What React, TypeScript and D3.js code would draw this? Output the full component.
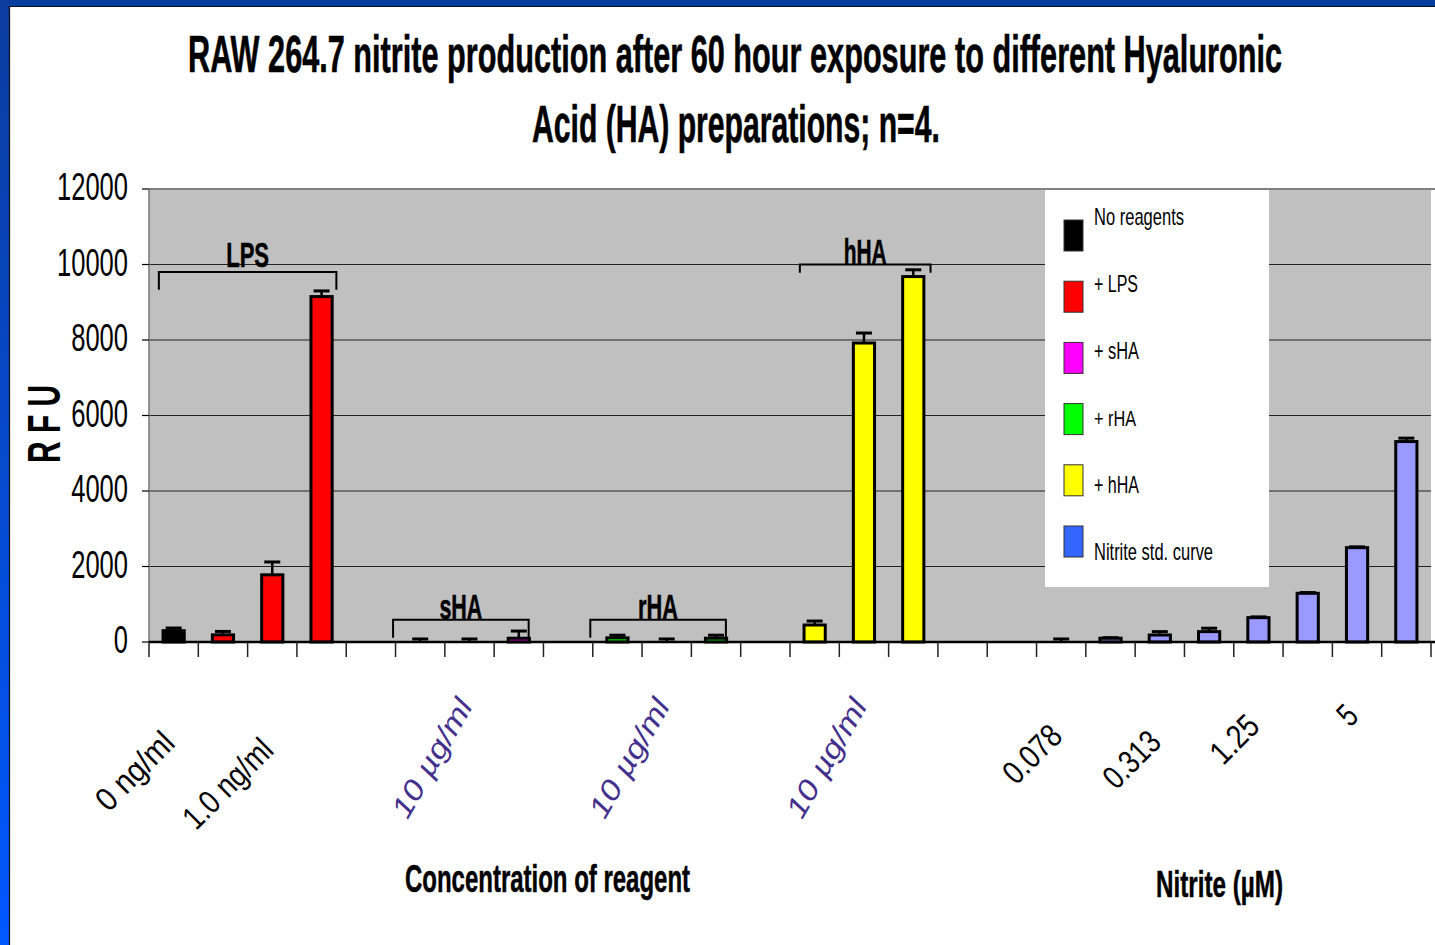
import React, { useLayoutEffect, useRef, useState } from "react";
import * as d3 from "d3";

// ---- data ----
const categoryLabels = [
  "0 ng/ml", "", "1.0 ng/ml", "", "", "", "10 µg/ml", "", "", "", "10 µg/ml", "", "",
  "", "10 µg/ml", "", "", "", "0.078", "", "0.313", "", "1.25", "", "5", "",
];
const seriesNames = ["No reagents", "+ LPS", "+ sHA", "+ rHA", "+ hHA", "Nitrite std. curve"];
const seriesColors = ["#000000", "#FF0000", "#FF00FF", "#00FF00", "#FFFF00", "#3366FF"];
const barSeries = [0, 1, 1, 1, -1, 2, 2, 2, -1, 3, 3, 3, -1, 4, 4, 4, -1, -1, 5, 5, 5, 5, 5, 5, 5, 5];
const barValues = [300, 190, 1780, 9150, 0, 0, 0, 100, 0, 110, 0, 100, 0, 450, 7920, 9680, 0, 0, 0, 100, 185, 275, 645, 1290, 2500, 5310];
const barErrors = [70, 90, 340, 150, 0, 80, 80, 190, 0, 70, 80, 80, 0, 105, 265, 180, 0, 0, 80, 15, 90, 90, 20, 20, 20, 90];
const yTicks = [0, 2000, 4000, 6000, 8000, 10000, 12000];
const bracketNames = ["LPS", "sHA", "rHA", "hHA"];
const bracketFrom = [0.2, 4.95, 8.95, 13.2];
const bracketTo = [3.8, 7.7, 11.7, 15.85];
const bracketLevel = [9800, 590, 590, 10000];
const bracketDrop = [470, 480, 480, 220];

const FONT = "'Liberation Sans', Arial, sans-serif";

type FitProps = {
  x: number; y: number; width: number; anchor?: "start" | "middle" | "end";
  children: React.ReactNode; [k: string]: any;
};

// Text squeezed horizontally to a given width (condensed look of the original)
function FitText({ x, y, width, anchor = "start", children, ...rest }: FitProps) {
  const ref = useRef<SVGTextElement | null>(null);
  const [s, setS] = useState(0.6);
  useLayoutEffect(() => {
    if (ref.current) {
      const w = ref.current.getComputedTextLength();
      if (w > 0) setS(width / w);
    }
  }, [width, children]);
  return (
    <text ref={ref} transform={`translate(${x},${y}) scale(${s},1)`} textAnchor={anchor} {...rest}>
      {children}
    </text>
  );
}

export default function App() {
  const W = 1435, H = 945;
  const left = 149, right = 1431, top = 189, bottom = 642;
  const x = d3.scaleBand<number>().domain(d3.range(categoryLabels.length)).range([left, right]).padding(0);
  const y = d3.scaleLinear().domain([0, 12000]).range([bottom, top]);
  const bw = x.bandwidth();
  const barW = bw * 0.43;
  const cx = (i: number) => (x(i) as number) + bw / 2;
  const catPos = (f: number) => left + f * bw;
  const barFill = (s: number) => (s === 5 ? "#9999FF" : seriesColors[s]);

  // end points of the rotated tick labels (layout)
  const labelEndY: Record<number, number> = { 0: 745, 2: 752, 18: 738, 20: 744, 22: 728, 24: 718 };
  const labelWidth: Record<number, number> = { 0: 96, 2: 112, 18: 68, 20: 66, 22: 54, 24: 14 };

  return (
    <div style={{ position: "fixed", left: 0, top: 0, width: W, height: H }}>
      <svg width={W} height={H} style={{ display: "block", fontFamily: FONT }}>
        <defs>
          <linearGradient id="leftBlue" x1="0" y1="0" x2="0" y2="1">
            <stop offset="0" stopColor="#0b3c9e" />
            <stop offset="1" stopColor="#0058ff" />
          </linearGradient>
        </defs>
        <rect x={0} y={0} width={W} height={H} fill="#ffffff" />
        <rect x={0} y={0} width={W} height={6} fill="#053e9e" />
        <rect x={0} y={0} width={9} height={H} fill="url(#leftBlue)" />
        <line x1={9.5} y1={6} x2={9.5} y2={H} stroke="#111" strokeWidth={1.2} />
        <line x1={9} y1={6.5} x2={W} y2={6.5} stroke="#111" strokeWidth={1.2} />

        {/* Title */}
        <FitText x={188} y={72} width={1094} fontSize={51} fontWeight="bold" stroke="#000" strokeWidth={0.6}>
          RAW 264.7 nitrite production after 60 hour exposure to different Hyaluronic
        </FitText>
        <FitText x={532} y={142} width={408} fontSize={51} fontWeight="bold" stroke="#000" strokeWidth={0.6}>
          Acid (HA) preparations; n=4.
        </FitText>

        {/* Plot area */}
        <rect x={left} y={top} width={right - left} height={bottom - top} fill="#C0C0C0" />
        {yTicks.filter((t) => t > 0 && t < 12000).map((t) => (
          <line key={t} x1={left} x2={right} y1={y(t)} y2={y(t)} stroke="#222" strokeWidth={1} />
        ))}
        <line x1={left} x2={right + 4} y1={top} y2={top} stroke="#808080" strokeWidth={2} />
        <line x1={left} x2={left} y1={top} y2={bottom} stroke="#777" strokeWidth={1.5} />

        {/* Y axis ticks & labels */}
        {yTicks.map((t) => (
          <g key={t}>
            <line x1={142} x2={left} y1={y(t)} y2={y(t)} stroke="#000" strokeWidth={1.2} />
            <FitText x={128} y={y(t) + 11} width={String(t).length * 14.2} fontSize={38} anchor="end">{t}</FitText>
          </g>
        ))}
        <g transform="translate(60,424) rotate(-90)">
          <FitText x={0} y={0} width={78} fontSize={46} fontWeight="bold" anchor="middle">R F U</FitText>
        </g>

        {/* Legend */}
        <rect x={1045} y={190} width={224} height={397} fill="#ffffff" />
        {seriesNames.map((n, i) => (
          <g key={n}>
            <rect x={1064} y={220 + i * 61.2} width={19} height={31} fill={seriesColors[i]} stroke="#333" strokeWidth={1} />
            <FitText x={1094} y={225 + i * 67} width={[90, 44, 45, 42, 45, 119][i]} fontSize={23}>{n}</FitText>
          </g>
        ))}

        {/* Bars */}
        {barValues.map((v, i) => {
          const s = barSeries[i];
          if (s < 0 || v <= 0) return null;
          return (
            <rect key={"b" + i} x={cx(i) - barW / 2} y={y(v)} width={barW} height={y(0) - y(v)}
              fill={barFill(s)} stroke="#000" strokeWidth={3} />
          );
        })}
        {/* Error bars */}
        {barErrors.map((e, i) => {
          const s = barSeries[i];
          if (s < 0 || e <= 0) return null;
          const v = barValues[i];
          return (
            <g key={"e" + i} stroke="#000">
              <line x1={cx(i)} x2={cx(i)} y1={y(v)} y2={y(v + e)} strokeWidth={2.5} />
              <line x1={cx(i) - 8} x2={cx(i) + 8} y1={y(v + e)} y2={y(v + e)} strokeWidth={3} />
            </g>
          );
        })}

        {/* X axis */}
        <line x1={left} x2={right + 4} y1={bottom} y2={bottom} stroke="#000" strokeWidth={2.5} />
        {d3.range(categoryLabels.length + 1).map((i) => (
          <line key={"t" + i} x1={left + i * bw} x2={left + i * bw} y1={bottom} y2={bottom + 15} stroke="#222" strokeWidth={1.5} />
        ))}

        {/* Brackets */}
        {bracketNames.map((n, i) => {
          const x0 = catPos(bracketFrom[i]);
          const x1 = catPos(bracketTo[i]);
          const yl = y(bracketLevel[i]);
          const yd = y(bracketLevel[i] - bracketDrop[i]);
          return (
            <g key={n}>
              <path d={`M${x0},${yd}V${yl}H${x1}V${yd}`} fill="none" stroke="#000" strokeWidth={2} />
              <FitText x={(x0 + x1) / 2} y={yl - (i === 0 ? 5 : 1)} width={[43, 43, 40, 43][i]} fontSize={35}
                fontWeight="bold" anchor="middle" stroke="#000" strokeWidth={0.5}>{n}</FitText>
            </g>
          );
        })}

        {/* X labels */}
        {categoryLabels.map((l, i) => {
          if (!l) return null;
          const italic = l.startsWith("10 ");
          if (italic) {
            return (
              <g key={"l" + i} transform={`translate(${cx(i) + 4},706) rotate(-60)`}>
                <FitText x={0} y={0} width={132} fontSize={29} fontStyle="italic" fill="#43308c" anchor="end">{l}</FitText>
              </g>
            );
          }
          return (
            <g key={"l" + i} transform={`translate(${cx(i) + 3},${labelEndY[i]}) rotate(-45)`}>
              <FitText x={0} y={0} width={labelWidth[i]} fontSize={33} anchor="end">{l}</FitText>
            </g>
          );
        })}

        {/* Axis titles */}
        <FitText x={547.5} y={892} width={285} fontSize={38} fontWeight="bold" anchor="middle" stroke="#000" strokeWidth={0.5}>
          Concentration of reagent
        </FitText>
        <FitText x={1219.5} y={897} width={127} fontSize={37} fontWeight="bold" anchor="middle" stroke="#000" strokeWidth={0.5}>
          Nitrite (µM)
        </FitText>
      </svg>
    </div>
  );
}
